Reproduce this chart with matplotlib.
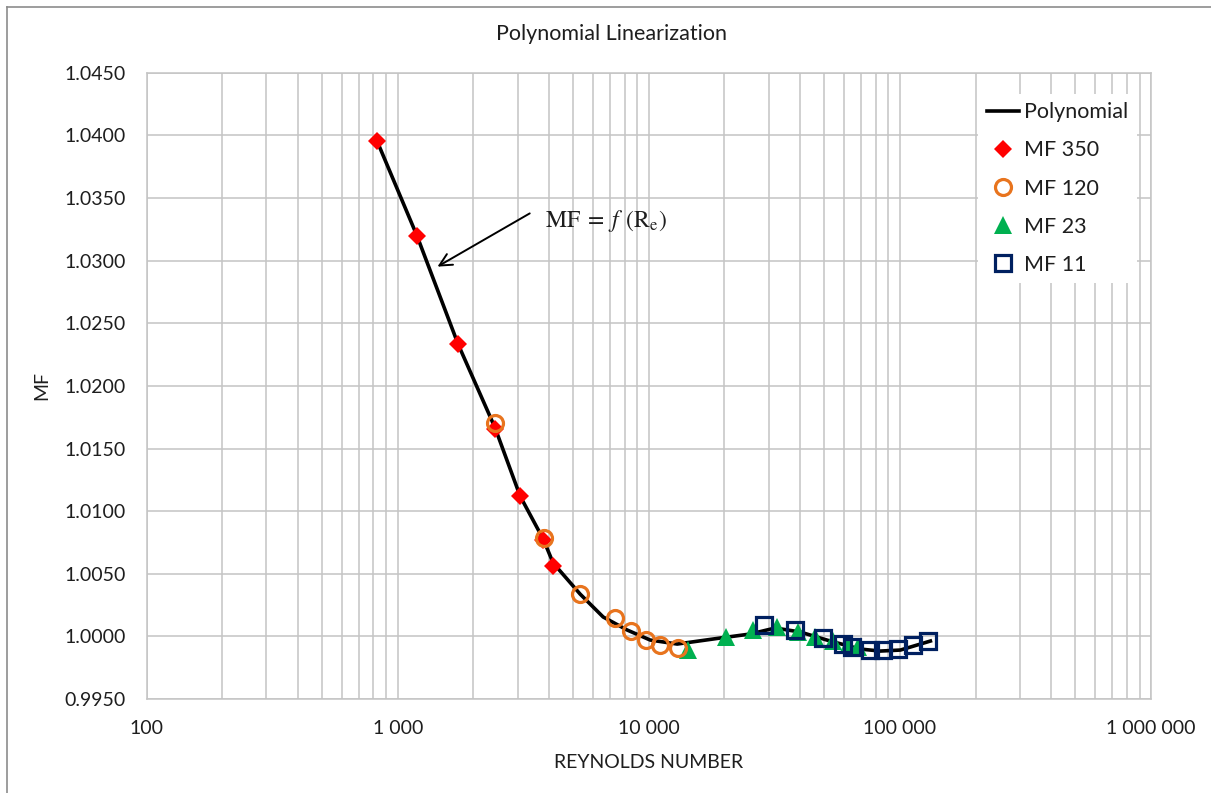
import matplotlib
matplotlib.use("Agg")
import matplotlib.pyplot as plt
from matplotlib.ticker import FixedLocator, LogLocator, FuncFormatter, NullFormatter
from matplotlib.lines import Line2D

plt.rcParams['font.family'] = ['Lato', 'DejaVu Sans']
plt.rcParams['mathtext.fontset'] = 'stix'

# Polynomial curve
poly_re = [827, 1194, 1738, 2442, 3070, 3793, 4158, 5324, 6577, 8196, 10120, 12970,
           19240, 25330, 31860, 40060, 52750, 69490, 83500, 100400, 132200]
poly_mf = [1.03955, 1.03196, 1.02334, 1.01664, 1.01121, 1.00778, 1.00586, 1.00338, 1.00155,
           1.00051, 0.99971, 0.99939, 0.99987, 1.00019, 1.00067, 1.00035, 0.99963, 0.99899,
           0.99883, 0.99891, 0.99963]

# measured series
mf350_re = [827, 1194, 1738, 2442, 3070, 3793, 4158]
mf350_mf = [1.03955, 1.03196, 1.02334, 1.01656, 1.01121, 1.00769, 1.00562]

mf120_re = [2442, 3828, 5324, 7340, 8503, 9755, 11090, 13060]
mf120_mf = [1.01704, 1.00786, 1.00338, 1.00147, 1.00043, 0.99971, 0.99931, 0.99907]

mf23_re = [14350, 20300, 26020, 32400, 39300, 45900, 54200, 62200, 68200]
mf23_mf = [0.99891, 0.99995, 1.00051, 1.00075, 1.00035, 0.99995, 0.99963, 0.99931, 0.99915]

mf11_re = [28770, 38300, 49500, 59400, 64500, 76200, 85900, 98600, 112200, 129800]
mf11_mf = [1.00091, 1.00051, 0.99987, 0.99939, 0.99915, 0.99891, 0.99891, 0.99899, 0.99931, 0.99963]

y_ticks = [0.9950, 1.0000, 1.0050, 1.0100, 1.0150, 1.0200, 1.0250, 1.0300, 1.0350, 1.0400, 1.0450]
x_ticks = [100, 1000, 10000, 100000, 1000000]

fig = plt.figure(figsize=(12.11, 7.93), dpi=100)
ax = fig.add_axes([0.1211, 0.1185, 0.8294, 0.7898])

grid_col = '#c4c4c4'
txt_col = '#1e1e1e'
ax.plot(poly_re, poly_mf, color='black', lw=2.6, label='Polynomial', zorder=3)
ax.plot(mf350_re, mf350_mf, 'D', color='#ff0000', ms=9.5, mew=0, label='MF 350', zorder=4)
ax.plot(mf120_re, mf120_mf, 'o', mfc='none', mec='#e8741e', ms=11.5, mew=2.3, label='MF 120', zorder=5)
ax.plot(mf23_re, mf23_mf, '^', color='#00b050', ms=13, mew=0, label='MF 23', zorder=4)
ax.plot(mf11_re, mf11_mf, 's', mfc='none', mec='#002060', ms=11.5, mew=2.3, label='MF 11', zorder=5)

ax.set_xscale('log')
ax.set_xlim(100, 1000000)
ax.set_ylim(0.9950, 1.0450)
ax.xaxis.set_major_locator(FixedLocator(x_ticks))
ax.xaxis.set_minor_locator(LogLocator(base=10, subs=range(2, 10)))
ax.xaxis.set_minor_formatter(NullFormatter())
ax.xaxis.set_major_formatter(FuncFormatter(lambda v, p: f"{int(round(v)):,}".replace(",", " ")))
ax.yaxis.set_major_locator(FixedLocator(y_ticks))
ax.yaxis.set_major_formatter(FuncFormatter(lambda v, p: f"{v:.4f}"))

ax.grid(True, which='both', axis='x', color=grid_col, lw=1.1)
ax.grid(True, which='major', axis='y', color=grid_col, lw=1.1)
ax.set_axisbelow(True)
for s in ax.spines.values():
    s.set_color(grid_col)
    s.set_linewidth(1.1)
ax.tick_params(which='both', length=0, labelsize=14, colors=txt_col)
ax.tick_params(axis='x', pad=15)
ax.tick_params(axis='y', pad=15)

ax.set_xlabel('REYNOLDS NUMBER', fontsize=14, color=txt_col, va='top')
ax.xaxis.set_label_coords(0.5, -0.0875)
ax.set_ylabel('MF', fontsize=14, color=txt_col)
ax.yaxis.set_label_coords(-0.0955, 0.5)
fig.text(611 / 1211, 1 - 34 / 793, 'Polynomial Linearization', ha='center', va='center',
         fontsize=15.5, color=txt_col)

# arrow + formula label
ax.annotate('', xy=(1408, 1.02941), xytext=(3429, 1.03388),
            arrowprops=dict(arrowstyle='->', color='black', lw=1.4, mutation_scale=22))
ax.text(3863, 1.03318, r'$\mathrm{MF}\;=\;f\;\,(\mathrm{R_e})$', ha='left', va='center',
        fontsize=17, color=txt_col)

leg = ax.legend(loc='upper right', bbox_to_anchor=(1148 / 1211, 1 - 83 / 793),
                bbox_transform=fig.transFigure, frameon=True, fontsize=15.5,
                handlelength=1.5, handletextpad=0.25, labelspacing=0.84, borderpad=0.4,
                edgecolor='none', facecolor='white', framealpha=1, fancybox=False)
for t in leg.get_texts():
    t.set_color(txt_col)

# outer chart border (left and top)
fig.add_artist(Line2D([6.7 / 1211, 6.7 / 1211], [0, 1 - 6.7 / 793], transform=fig.transFigure,
                      color='#8c8c8c', lw=1.2))
fig.add_artist(Line2D([6.7 / 1211, 1], [1 - 6.7 / 793, 1 - 6.7 / 793], transform=fig.transFigure,
                      color='#8c8c8c', lw=1.2))

fig.savefig('out.png', dpi=100)
